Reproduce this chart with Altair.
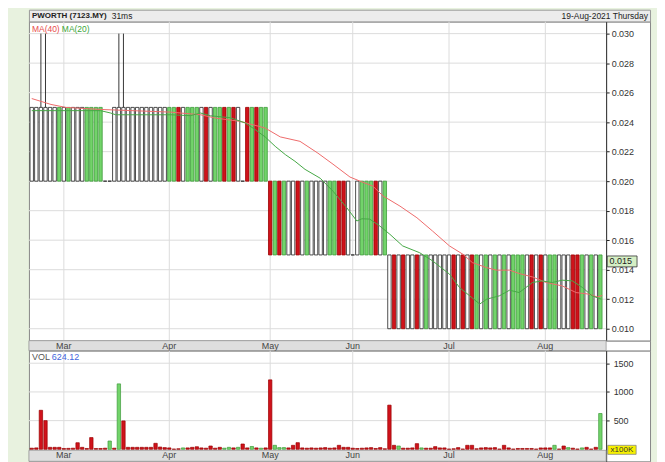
import altair as alt
import pandas as pd

FONT = "Liberation Sans"

# ---------------- data ----------------
month_labels = ["Mar", "Apr", "May", "Jun", "Jul", "Aug"]
month_start_idx = [7, 30, 52, 70, 91, 112]   # trading-day index of first session of month

# price range blocks (trading-day index ranges)
seg_first = [0, 52, 78]
seg_last = [51, 77, 124]
seg_low = [0.020, 0.015, 0.010]
seg_high = [0.025, 0.020, 0.015]

# candle colour per trading day: g = up (green), r = down (red), k = hollow, f = flat
candle_type = ("kkkkkkgkgk" "kkggggffkk" "kkkkkkkkkk" "ggrkgggkrk" "ggrgrkfrgr" "gg"
               "rgrgkkrkgk" "kkkggrrkfk" "gggrkg"
               "krkrkkrkgk" "kkkkrkrkrg" "kgkgkgkggg" "krkrkggkkk" "rrgkgkg")

wick_idx = [2, 3, 19, 20]
wick_high = [0.030, 0.030, 0.030, 0.030]

# volume (x100K)
volume = [20, 25, 680, 500, 35, 35, 35, 15, 17, 20,
          115, 35, 15, 205, 15, 15, 20, 145, 20, 1140,
          495, 35, 35, 35, 35, 35, 35, 105, 40, 30,
          25, 5, 10, 25, 25, 35, 45, 25, 20, 58,
          20, 35, 20, 35, 25, 35, 93, 25, 50, 25,
          20, 25, 1210, 70, 30, 30, 25, 70, 116, 25,
          20, 25, 20, 25, 30, 20, 25, 70, 35, 35,
          20, 15, 20, 25, 30, 15, 30, 10, 770, 70,
          58, 20, 20, 25, 99, 25, 20, 20, 47, 25,
          25, 5, 10, 30, 5, 70, 70, 10, 25, 30,
          25, 30, 5, 70, 25, 5, 15, 15, 15, 15,
          5, 25, 25, 25, 70, 5, 58, 30, 20, 5,
          25, 35, 5, 35, 624]
vol_up_idx = [17, 19, 33, 42, 43, 45, 48, 50, 53, 54, 55, 80, 85, 114, 117, 120, 124]

ma40_idx = [0, 4.2, 7.4, 15, 30.3, 36.8, 40, 45.5, 50.9, 54.2, 58.5, 62.4, 65.7, 69.4,
            71.6, 74.4, 76.6, 80.3, 84, 87.4, 91.1, 94, 96.1, 99.2, 101.3, 104.2,
            106.3, 109.2, 112.2, 115.7, 118.7, 121.6, 123.3, 124.4]
ma40_val = [0.0256, 0.0252, 0.0250, 0.02486, 0.02468, 0.0245, 0.02428, 0.02405, 0.0236,
            0.0230, 0.0227, 0.0219, 0.02115, 0.02028, 0.0200, 0.01966, 0.0190, 0.01831,
            0.01752, 0.01662, 0.01561, 0.01505, 0.01448, 0.01414, 0.01397, 0.01397,
            0.01374, 0.01351, 0.01313, 0.0129, 0.01245, 0.01234, 0.01215, 0.01225]

ma20_idx = [0, 15, 17.2, 18.3, 30.3, 34.6, 36.8, 39, 43.3, 46.6, 48.7, 50.9, 53.1, 55.3,
            57.4, 59.6, 62.9, 65.7, 68.7, 70.9, 72, 73.7, 75.9, 78.1, 80.9, 84.6, 87.4,
            91.1, 93.3, 95.5, 97.7, 99.2, 102, 104.2, 106.3, 109.2, 111.3, 113.5, 115.7,
            117.9, 120.1, 122.2, 124.2]
ma20_val = [0.02478, 0.02478, 0.02462, 0.0245, 0.0245, 0.02444, 0.02462, 0.02443, 0.0243,
            0.02394, 0.0235, 0.0230, 0.02236, 0.0218, 0.02135, 0.0208, 0.0202, 0.01932,
            0.0182, 0.0173, 0.01745, 0.01743, 0.01696, 0.0164, 0.01561, 0.01515, 0.0146,
            0.0137, 0.01279, 0.01223, 0.01167, 0.0120, 0.01223, 0.01261, 0.01245, 0.01313,
            0.01324, 0.01313, 0.01329, 0.01324, 0.01279, 0.01223, 0.0120]

price_ticks = [0.010, 0.012, 0.014, 0.016, 0.018, 0.020, 0.022, 0.024, 0.026, 0.028, 0.030]
vol_ticks = [500, 1000, 1500]
last_price_text = "0.015"
last_vol_text = "624.12"

# ---------------- tables ----------------
rows = []
for s0, s1, lo, hi in zip(seg_first, seg_last, seg_low, seg_high):
    for i in range(s0, s1 + 1):
        t = candle_type[i]
        rows.append({"i": i, "lo": lo, "hi": lo if t == "f" else hi, "t": t})
cand = pd.DataFrame(rows)

wick = pd.DataFrame({"i": wick_idx,
                     "lo": [cand.loc[cand.i == k, "hi"].iloc[0] for k in wick_idx],
                     "hi": wick_high})
vol = pd.DataFrame({"i": list(range(len(volume))), "v": volume,
                    "d": ["up" if k in vol_up_idx else "dn" for k in range(len(volume))]})
ma40 = pd.DataFrame({"i": ma40_idx, "v": ma40_val})
ma20 = pd.DataFrame({"i": ma20_idx, "v": ma20_val})
months = pd.DataFrame({"i": month_start_idx, "m": month_labels})
pgrid = pd.DataFrame({"p": price_ticks})
vgrid = pd.DataFrame({"v": vol_ticks})

# ---------------- scales ----------------
W = 623
XDOM = [-0.61, 134.83]
XEND = 125.26
xs = alt.Scale(domain=XDOM, nice=False, zero=False, padding=0)
ps = alt.Scale(domain=[0.009189, 0.030811], nice=False, zero=False, padding=0)
vs = alt.Scale(domain=[-208.3, 1718.75], nice=False, zero=False, padding=0)

price_axis = alt.Axis(orient="right", offset=-44, values=price_ticks, format=".3f",
                      labelFont=FONT, labelFontSize=9, labelColor="#333", domainColor="#222",
                      tickColor="#222", tickSize=3, grid=False, title=None,
                      labelOverlap=False, labelPadding=2)
vol_axis = alt.Axis(orient="right", offset=-44, values=vol_ticks, format="d",
                    labelFont=FONT, labelFontSize=9, labelColor="#333", domainColor="#222",
                    tickColor="#222", tickSize=3, grid=False, title=None,
                    labelOverlap=False, labelPadding=4)

X = lambda f: alt.X(f, scale=xs, axis=None)
one = alt.Data(values=[{}])

# ---------------- title strip ----------------
title_c = alt.layer(
    alt.Chart(one).mark_text(text="PWORTH (7123.MY)", font=FONT, fontSize=8, fontWeight="bold",
                             color="#222", align="left", baseline="middle").encode(
        x=alt.value(3), y=alt.value(6.5)),
    alt.Chart(one).mark_text(text="31ms", font=FONT, fontSize=8.5, color="#222",
                             align="left", baseline="middle").encode(
        x=alt.value(83), y=alt.value(6.5)),
    alt.Chart(one).mark_text(text="19-Aug-2021 Thursday", font=FONT, fontSize=8.5, color="#222",
                             align="right", baseline="middle").encode(
        x=alt.value(W - 2), y=alt.value(6.5)),
).properties(width=W, height=12, view=alt.ViewBackground(fill="#ececec", stroke="#9a9a9a"))

# ---------------- price panel ----------------
type_dom = ["g", "r", "k", "f"]
p_hgrid = alt.Chart(pgrid).mark_rule(color="#dcdcdc").encode(
    y=alt.Y("p:Q", scale=ps, axis=price_axis),
    x=alt.X(datum=XDOM[0], scale=xs, axis=None), x2=alt.X2(datum=XEND))
p_vgrid = alt.Chart(months).mark_rule(color="#dcdcdc").encode(x=X("i:Q"))
p_wick = alt.Chart(wick).mark_rule(color="#222", strokeWidth=0.9).encode(
    x=X("i:Q"), y=alt.Y("lo:Q", scale=ps, axis=price_axis), y2="hi:Q")
p_body = alt.Chart(cand).mark_bar(size=3.4, strokeWidth=0.8).encode(
    x=X("i:Q"), y=alt.Y("lo:Q", scale=ps, axis=price_axis), y2="hi:Q",
    fill=alt.Fill("t:N", scale=alt.Scale(domain=type_dom,
                  range=["#72d46a", "#d0121b", "#ffffff", "#ffffff"]), legend=None),
    stroke=alt.Stroke("t:N", scale=alt.Scale(domain=type_dom,
                      range=["#3d9a3a", "#9a0000", "#222222", "#222222"]), legend=None))
p_ma40 = alt.Chart(ma40).mark_line(color="#ee6b6b", strokeWidth=1).encode(
    x=X("i:Q"), y=alt.Y("v:Q", scale=ps, axis=price_axis))
p_ma20 = alt.Chart(ma20).mark_line(color="#45a845", strokeWidth=1).encode(
    x=X("i:Q"), y=alt.Y("v:Q", scale=ps, axis=price_axis))
p_lbl40 = alt.Chart(one).mark_text(text="MA(40)", font=FONT, fontSize=8.5, color="#e84c4c",
                                   align="left", baseline="middle").encode(
    x=alt.value(3), y=alt.value(7))
p_lbl20 = alt.Chart(one).mark_text(text="MA(20)", font=FONT, fontSize=8.5, color="#3aa63a",
                                   align="left", baseline="middle").encode(
    x=alt.value(33), y=alt.value(7))
p_box = alt.Chart(one).mark_rect(fill="#d5efc4", stroke="#333", strokeWidth=0.8).encode(
    x=alt.X(datum=125.5, scale=xs, axis=None), x2=alt.X2(datum=132.0),
    y=alt.Y(datum=0.01493, scale=ps, axis=price_axis), y2=alt.Y2(datum=0.01419))
p_boxt = alt.Chart(one).mark_text(text=last_price_text, font=FONT, fontSize=9, color="#222",
                                  align="left", baseline="middle").encode(
    x=alt.X(datum=126.0, scale=xs, axis=None),
    y=alt.Y(datum=0.01456, scale=ps, axis=price_axis))
price_c = alt.layer(p_hgrid, p_vgrid, p_wick, p_body, p_ma40, p_ma20, p_lbl40, p_lbl20,
                    p_box, p_boxt).properties(
    width=W, height=320, view=alt.ViewBackground(fill="white", stroke="#888"))

# ---------------- middle date strip ----------------
strip_c = alt.layer(
    alt.Chart(one).mark_rect(fill="#dedede", stroke="#999", strokeWidth=0.8).encode(
        x=alt.X(datum=XDOM[0], scale=xs, axis=None), x2=alt.X2(datum=XEND),
        y=alt.value(0), y2=alt.value(10)),
    alt.Chart(months).mark_text(font=FONT, fontSize=9, color="#444", baseline="middle").encode(
        x=X("i:Q"), y=alt.value(5.5), text="m:N"),
).properties(width=W, height=10, view=alt.ViewBackground(fill="white", stroke="#888"))

# ---------------- volume panel ----------------
v_vgrid = alt.Chart(months).mark_rule(color="#dcdcdc").encode(x=X("i:Q"))
v_hgrid = alt.Chart(vgrid).mark_rule(color="#dcdcdc").encode(
    y=alt.Y("v:Q", scale=vs, axis=vol_axis),
    x=alt.X(datum=XDOM[0], scale=xs, axis=None), x2=alt.X2(datum=XEND))
v_bars = alt.Chart(vol).mark_bar(size=3.4, strokeWidth=0.7).encode(
    x=X("i:Q"), y=alt.Y("v:Q", scale=vs, axis=vol_axis), y2=alt.Y2(datum=0),
    fill=alt.Fill("d:N", scale=alt.Scale(domain=["up", "dn"], range=["#78d86e", "#cc1414"]),
                  legend=None),
    stroke=alt.Stroke("d:N", scale=alt.Scale(domain=["up", "dn"], range=["#3d9a3a", "#8a0000"]),
                      legend=None))
v_strip = alt.Chart(one).mark_rect(fill="#dedede", stroke="#999", strokeWidth=0.8).encode(
    x=alt.X(datum=XDOM[0], scale=xs, axis=None), x2=alt.X2(datum=XEND),
    y=alt.Y(datum=-17.4, scale=vs, axis=vol_axis), y2=alt.Y2(datum=-208.3))
v_months = alt.Chart(months).mark_text(font=FONT, fontSize=9, color="#444",
                                       baseline="middle").encode(
    x=X("i:Q"), y=alt.Y(datum=-106, scale=vs, axis=vol_axis), text="m:N")
v_lbl = alt.Chart(one).mark_text(text="VOL", font=FONT, fontSize=9, color="#555",
                                 align="left", baseline="middle").encode(
    x=alt.value(3), y=alt.value(6))
v_lbl2 = alt.Chart(one).mark_text(text=last_vol_text, font=FONT, fontSize=9, color="#4466dd",
                                  align="left", baseline="middle").encode(
    x=alt.value(23), y=alt.value(6))
v_box = alt.Chart(one).mark_rect(fill="#f7f000", stroke="#888", strokeWidth=0.8).encode(
    x=alt.X(datum=125.6, scale=xs, axis=None), x2=alt.X2(datum=131.8),
    y=alt.Y(datum=70, scale=vs, axis=vol_axis), y2=alt.Y2(datum=-87))
v_boxt = alt.Chart(one).mark_text(text="x100K", font=FONT, fontSize=8, color="#333",
                                  baseline="middle").encode(
    x=alt.X(datum=128.7, scale=xs, axis=None), y=alt.Y(datum=-8, scale=vs, axis=vol_axis))
vol_c = alt.layer(v_vgrid, v_hgrid, v_bars, v_strip, v_months, v_lbl, v_lbl2,
                  v_box, v_boxt).properties(
    width=W, height=111, view=alt.ViewBackground(fill="white", stroke="#888"))

chart = alt.vconcat(title_c, price_c, strip_c, vol_c, spacing=0, bounds="flush").properties(
    padding={"left": 20, "top": 0, "right": 6, "bottom": 0},
    background="#e8f2df",
)

chart.save("out.html", embed_options={"renderer": "svg", "actions": False})
